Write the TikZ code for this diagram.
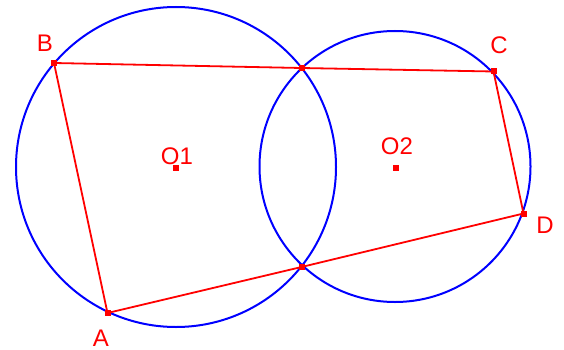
\documentclass[tikz,border=0pt]{standalone}
\usepackage{fontspec}
\setmainfont{Liberation Sans}
\begin{document}
\begin{tikzpicture}[x=1pt,y=-1pt,
  circ/.style={draw=blue,line width=2pt},
  seg/.style={draw=red,line width=1.8pt},
  pt/.style={fill=red,minimum size=6pt,inner sep=0pt,outer sep=0pt,rectangle},
  lab/.style={text=red,font=\fontsize{24}{24}\selectfont,inner sep=0pt}]
\useasboundingbox (0,0) rectangle (564,350);
\coordinate (O1) at (176,168);
\coordinate (O2) at (396,168);
\coordinate (C1) at (176,167);
\coordinate (C2) at (395,166.5);
\draw[circ] (C1) circle (160);
\draw[circ] (C2) circle (135.5);
\coordinate (B) at (54,63);
\coordinate (C) at (493.5,71.5);
\coordinate (D) at (523.5,213.5);
\coordinate (A) at (107.5,313);
\coordinate (P) at (301.5,68);
\coordinate (Q) at (301.5,267);
\draw[seg] (A) -- (B) -- (P) -- (C) -- (D) -- (Q) -- (A);
\foreach \p in {O1,O2,A,B,C,D,P,Q} \node[pt] at (\p) {};
\node[lab] (lB) at (45,43) {B};
\node[lab] (lC) at (499,45) {C};
\node[lab] (lD) at (545,225) {D};
\node[lab] (lA) at (101,338) {A};
\node[lab] (lO1) at (177,156) {O1};
\node[lab] (lO2) at (397,146) {O2};
\end{tikzpicture}
\end{document}
